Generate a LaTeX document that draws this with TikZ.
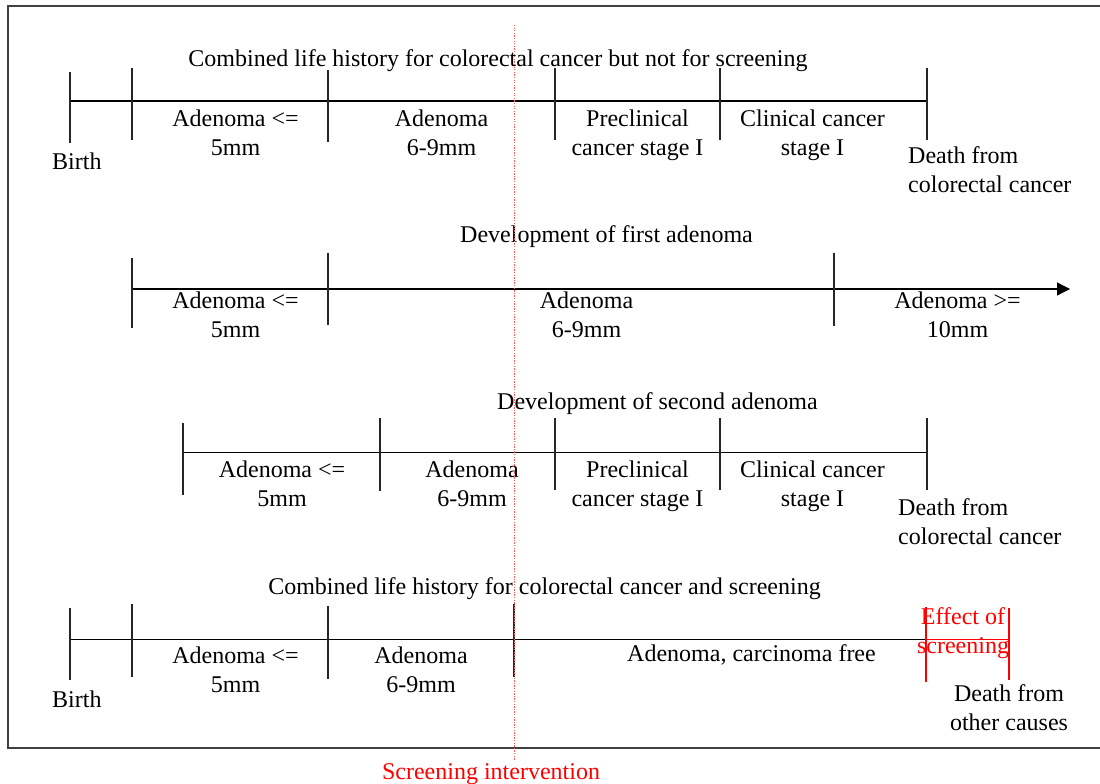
\documentclass[tikz,border=0pt]{standalone}
\usepackage{fontspec}
\setmainfont{Liberation Serif}
\usetikzlibrary{arrows.meta}
\definecolor{scrred}{RGB}{255,0,0}
\tikzset{
  lbl/.style={inner sep=0pt, align=center, anchor=base, yshift=-1.5pt, font=\fontsize{24}{29}\selectfont},
  lbll/.style={lbl, align=left, anchor=base west},
  tl/.style={line width=1.2pt, black},
  tick/.style={line width=1.1pt, black!85},
  redtick/.style={line width=1.1pt, scrred},
  frame/.style={line width=1.3pt, black!75},
  scr/.style={line width=1pt, red!65, dash pattern=on 1.3pt off 1.3pt},
}
\begin{document}
\begin{tikzpicture}[x=1pt,y=-1pt]
\useasboundingbox (0,0) rectangle (1100,784);
% frame
\draw[frame] (8,6) rectangle (1110,748);

% ---------------- timeline 1
\node[lbl] (t1) at (498,65) {Combined life history for colorectal cancer but not for screening};
\coordinate (a1) at (70,101); \coordinate (b1) at (927,101);
\draw[tl] (a1) -- (b1);
\draw[tick] (70,72) -- (70,143);
\draw[tick] (132,68) -- (132,140);
\draw[tick] (328,70) -- (328,142);
\draw[tick] (555,68) -- (555,140);
\draw[tick] (720,68) -- (720,140);
\draw[tick] (927,68) -- (927,140);
\node[lbl] (l11) at (235.5,154) {Adenoma <=\\5mm};
\node[lbl] (l12) at (441.5,154) {Adenoma\\6-9mm};
\node[lbl] (l13) at (637.5,154) {Preclinical\\cancer stage I};
\node[lbl] (l14) at (812.5,154) {Clinical cancer\\stage I};
\node[lbll] (birth1) at (52,168) {Birth};
\node[lbll] (death1) at (908,191) {Death from\\colorectal cancer};

% ---------------- timeline 2
\node[lbl] (t2) at (606.5,241) {Development of first adenoma};
\coordinate (a2) at (132,289); \coordinate (b2) at (1070,289);
\draw[tl,-{Triangle[length=13pt,width=13pt]}] (a2) -- (b2);
\draw[tick] (132,258) -- (132,328);
\draw[tick] (328,253) -- (328,325);
\draw[tick] (834,253) -- (834,326);
\node[lbl] (l21) at (235.5,336) {Adenoma <=\\5mm};
\node[lbl] (l22) at (586.5,336) {Adenoma\\6-9mm};
\node[lbl] (l23) at (957.5,336) {Adenoma >=\\10mm};

% ---------------- timeline 3
\node[lbl] (t3) at (657.5,408) {Development of second adenoma};
\coordinate (a3) at (183,452.5); \coordinate (b3) at (927,452.5);
\draw[tl] (a3) -- (b3);
\draw[tick] (183,423) -- (183,495);
\draw[tick] (380,418) -- (380,491);
\draw[tick] (555,418) -- (555,490);
\draw[tick] (720,418) -- (720,490);
\draw[tick] (927,418) -- (927,490);
\node[lbl] (l31) at (282,505) {Adenoma <=\\5mm};
\node[lbl] (l32) at (472,505) {Adenoma\\6-9mm};
\node[lbl] (l33) at (637.5,505) {Preclinical\\cancer stage I};
\node[lbl] (l34) at (812.5,505) {Clinical cancer\\stage I};
\node[lbll] (death3) at (898,543) {Death from\\colorectal cancer};

% ---------------- timeline 4
\node[lbl] (t4) at (544.5,593) {Combined life history for colorectal cancer and screening};
\coordinate (a4) at (70,639.5); \coordinate (b4) at (926,639.5); \coordinate (c4) at (1009,639.5);
\draw[tl] (a4) -- (b4);
\draw[redtick] (b4) -- (c4);
\draw[tick] (70,608) -- (70,680);
\draw[tick] (132,604) -- (132,677);
\draw[tick] (328,606) -- (328,679);
\draw[tick] (514,604) -- (514,677);
\draw[redtick] (926,607) -- (926,682);
\draw[redtick] (1009,608) -- (1009,680);
\node[lbl] (l41) at (235.5,690.5) {Adenoma <=\\5mm};
\node[lbl] (l42) at (421,690.5) {Adenoma\\6-9mm};
\node[lbl] (l43) at (751.5,660) {Adenoma, carcinoma free};
\node[lbl, text=scrred] (eff) at (963,652) {Effect of\\screening};
\node[lbll] (birth4) at (52,706) {Birth};
\node[lbl] (death4) at (1009,729) {Death from\\other causes};

% ---------------- screening intervention
\coordinate (s1) at (514,25); \coordinate (s2) at (514,760);
\draw[scr] (s1) -- (s2);
\node[lbl, text=scrred] (scrint) at (491,778) {Screening intervention};
\end{tikzpicture}
\end{document}
